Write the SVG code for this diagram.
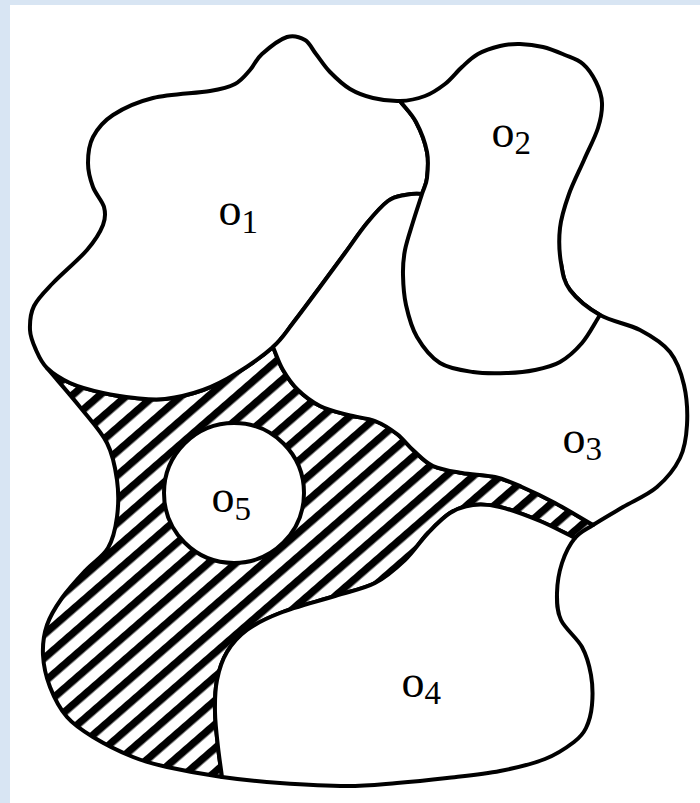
<svg xmlns="http://www.w3.org/2000/svg" width="700" height="803" viewBox="0 0 700 803">
<defs>
<pattern id="hatch" patternUnits="userSpaceOnUse" width="18" height="18" patternTransform="rotate(-41)">
<rect x="0" y="0" width="18" height="18" fill="#fff"/>
<rect x="0" y="0" width="18" height="7.5" fill="#000"/>
</pattern>
<style>
.sh{stroke:#000;stroke-width:4;stroke-linejoin:round;fill:#fff}
.ht{stroke:#000;stroke-width:4;stroke-linejoin:round;fill:url(#hatch)}
.lb{font-family:"Liberation Serif","DejaVu Serif",serif;font-size:46px;fill:#000}
.sub{font-size:33px}
</style>
</defs>
<rect x="0" y="0" width="700" height="803" fill="#d8e5f3"/>
<rect x="10" y="5" width="690" height="798" fill="#fff"/>

<g id="hatched-region">
<path class="ht" d="M47,368 C52.7,373.5 60.7,378.8 70,383 C79.3,387.2 92.2,390.5 103,393 C113.8,395.5 124.7,397 135,398 C145.3,399 153.7,400.3 165,399 C176.3,397.7 191,394.3 203,390 C215,385.7 225.3,380.2 237,373 C248.7,365.8 263.7,355.3 273,347 C276.3,354.7 278.8,362.8 283,370 C287.2,377.2 291.8,384 298,390 C304.2,396 311.7,401.8 320,406 C328.3,410.2 338.8,412.5 348,415 C357.2,417.5 366.8,417.8 375,421 C383.2,424.2 390.7,429.2 397,434 C403.3,438.8 407,444.7 413,450 C419,455.3 424.8,462.2 433,466 C441.2,469.8 451.7,471.2 462,473 C472.3,474.8 485,474.7 495,477 C505,479.3 512,482.7 522,487 C532,491.3 543.2,496.7 555,503 C566.8,509.3 580.3,517.7 593,525 C585,530.2 580.2,531.7 575,538 C563.3,532.3 552.5,526.2 540,521 C527.5,515.8 511.2,509.7 500,507 C488.8,504.3 481.3,504 473,505 C464.7,506 457.5,508.3 450,513 C442.5,517.7 435.5,525.2 428,533 C420.5,540.8 413.8,551.7 405,560 C396.2,568.3 386.7,577 375,583 C363.3,589 350.8,591 335,596 C319.2,601 294.7,607.3 280,613 C265.3,618.7 255.8,623.5 247,630 C238.2,636.5 232,643.7 227,652 C222,660.3 219,670 217,680 C215,690 214.8,700.8 215,712 C215.2,723.2 216.8,736.2 218,747 C219.2,757.8 220.7,767 222,777 C203.2,774.3 181.8,770.3 167,767 C152.2,763.7 145.3,762 133,757 C120.7,752 104,743.7 93,737 C82,730.3 74.2,725.3 67,717 C59.8,708.7 54,697.3 50,687 C46,676.7 43.5,665.3 43,655 C42.5,644.7 43.8,634.5 47,625 C50.2,615.5 55.5,607.2 62,598 C68.5,588.8 78.3,578.3 86,570 C93.7,561.7 102.8,556.8 108,548 C113.2,539.2 115.5,528.3 117,517 C118.5,505.7 118.7,492.3 117,480 C115.3,467.7 113.2,455.2 107,443 C100.8,430.8 90,419.5 80,407 C70,394.5 58,381 47,368 Z"/>
</g>

<g id="o1">
<path class="sh" d="M47,368 C41.3,362.5 38.8,356.3 36,350 C33.2,343.7 30.3,337.3 30,330 C29.7,322.7 30.2,313.8 34,306 C37.8,298.2 44.2,292.3 53,283 C61.8,273.7 78.7,259.7 87,250 C95.3,240.3 100.2,232.2 103,225 C105.8,217.8 105.7,213.3 104,207 C102.3,200.7 95.7,194.3 93,187 C90.3,179.7 88,171.3 88,163 C88,154.7 88.8,145 93,137 C97.2,129 103,121.5 113,115 C123,108.5 136.8,102 153,98 C169.2,94 196.3,93.3 210,91 C223.7,88.7 228.3,87.5 235,84 C241.7,80.5 245.5,75 250,70 C254.5,65 255.8,59.5 262,54 C268.2,48.5 279.8,39.3 287,37 C294.2,34.7 300.2,37.2 305,40 C309.8,42.8 311.8,48.7 316,54 C320.2,59.3 324.3,66.2 330,72 C335.7,77.8 342.8,84.7 350,89 C357.2,93.3 364.7,96 373,98 C381.3,100 391.3,101.3 400,101 C405.3,108 411.5,113.5 416,122 C420.5,130.5 425.2,142.7 427,152 C428.8,161.3 427.8,171 427,178 C426.2,185 424.3,186.7 422,194 C415.3,193 410.7,193.8 405,195 C399.3,196.2 394.3,196.3 388,201 C381.7,205.7 374.2,214.3 367,223 C359.8,231.7 352.8,242.3 345,253 C337.2,263.7 328.7,275.3 320,287 C311.3,298.7 300.8,313 293,323 C285.2,333 282.3,338.7 273,347 C263.7,355.3 248.7,365.8 237,373 C225.3,380.2 215,385.7 203,390 C191,394.3 176.3,397.7 165,399 C153.7,400.3 145.3,399 135,398 C124.7,397 113.8,395.5 103,393 C92.2,390.5 79.3,387.2 70,383 C60.7,378.8 52.7,373.5 47,368 Z"/>
<text class="lb" x="218.5" y="225">o<tspan class="sub" dy="8">1</tspan></text>
</g>

<g id="o3">
<path class="sh" d="M273,347 C282.3,338.7 285.2,333 293,323 C300.8,313 311.3,298.7 320,287 C328.7,275.3 337.2,263.7 345,253 C352.8,242.3 359.8,231.7 367,223 C374.2,214.3 381.7,205.7 388,201 C394.3,196.3 399.3,196.2 405,195 C410.7,193.8 415.3,193 422,194 C428.7,195 434.8,196.7 445,201 C455.2,205.3 469.3,213 483,220 C496.7,227 514,235.8 527,243 C540,250.2 549.7,256.3 561,263 C562.7,273.3 563.5,281.3 570,290 C576.5,298.7 588.3,308.3 600,315 C611.7,321.7 628.3,323.8 640,330 C651.7,336.2 662.7,342.8 670,352 C677.3,361.2 681.2,372.8 684,385 C686.8,397.2 687.7,412.8 687,425 C686.3,437.2 685,447.7 680,458 C675,468.3 666.5,478.8 657,487 C647.5,495.2 633.7,500.7 623,507 C612.3,513.3 601,519.8 593,525 C580.3,517.7 566.8,509.3 555,503 C543.2,496.7 532,491.3 522,487 C512,482.7 505,479.3 495,477 C485,474.7 472.3,474.8 462,473 C451.7,471.2 441.2,469.8 433,466 C424.8,462.2 419,455.3 413,450 C407,444.7 403.3,438.8 397,434 C390.7,429.2 383.2,424.2 375,421 C366.8,417.8 357.2,417.5 348,415 C338.8,412.5 328.3,410.2 320,406 C311.7,401.8 304.2,396 298,390 C291.8,384 287.2,377.2 283,370 C278.8,362.8 276.3,354.7 273,347 Z"/>
<text class="lb" x="562.5" y="453">o<tspan class="sub" dy="7">3</tspan></text>
</g>

<g id="o2">
<path class="sh" d="M400,101 C408.7,100.7 417.5,98.8 425,96 C432.5,93.2 438.8,88.8 445,84 C451.2,79.2 456.5,72 462,67 C467.5,62 471.7,57.5 478,54 C484.3,50.5 493,47.7 500,46 C507,44.3 512.8,43.8 520,44 C527.2,44.2 535.5,45.2 543,47 C550.5,48.8 558.3,52.2 565,55 C571.7,57.8 577.8,59.5 583,64 C588.2,68.5 592.8,75.5 596,82 C599.2,88.5 601.7,95.3 602,103 C602.3,110.7 601,118.5 598,128 C595,137.5 588.8,149 584,160 C579.2,171 573,182.7 569,194 C565,205.3 561.3,216.5 560,228 C558.7,239.5 559.3,252.7 561,263 C562.7,273.3 563.5,281.3 570,290 C576.5,298.7 588.3,308.3 600,315 C594,324.3 588.7,335.2 582,343 C575.3,350.8 567.8,357.5 560,362 C552.2,366.5 543.8,368.2 535,370 C526.2,371.8 517.3,372.7 507,373 C496.7,373.3 484.2,373.7 473,372 C461.8,370.3 449.3,368.8 440,363 C430.7,357.2 422.7,346.7 417,337 C411.3,327.3 408.3,315.3 406,305 C403.7,294.7 403.2,284.2 403,275 C402.8,265.8 403.3,258.8 405,250 C406.7,241.2 410.2,231.3 413,222 C415.8,212.7 419.7,201.3 422,194 C424.3,186.7 426.2,185 427,178 C427.8,171 428.8,161.3 427,152 C425.2,142.7 420.5,130.5 416,122 C411.5,113.5 405.3,108 400,101 Z" fill="none"/>
<text class="lb" x="491.5" y="147">o<tspan class="sub" dy="7">2</tspan></text>
</g>

<g id="o4">
<path class="sh" d="M575,538 C563.3,532.3 552.5,526.2 540,521 C527.5,515.8 511.2,509.7 500,507 C488.8,504.3 481.3,504 473,505 C464.7,506 457.5,508.3 450,513 C442.5,517.7 435.5,525.2 428,533 C420.5,540.8 413.8,551.7 405,560 C396.2,568.3 386.7,577 375,583 C363.3,589 350.8,591 335,596 C319.2,601 294.7,607.3 280,613 C265.3,618.7 255.8,623.5 247,630 C238.2,636.5 232,643.7 227,652 C222,660.3 219,670 217,680 C215,690 214.8,700.8 215,712 C215.2,723.2 216.8,736.2 218,747 C219.2,757.8 220.7,767 222,777 C240.8,779.7 259.2,781.5 280,783 C300.8,784.5 327.5,786 347,786 C366.5,786 380.3,784.3 397,783 C413.7,781.7 429.8,780 447,778 C464.2,776 483.7,774.2 500,771 C516.3,767.8 532.7,763.8 545,759 C557.3,754.2 567.2,747.2 574,742 C580.8,736.8 583,734.2 586,728 C589,721.8 591.2,713.8 592,705 C592.8,696.2 592.7,684.7 591,675 C589.3,665.3 587,656.2 582,647 C577,637.8 565.2,629 561,620 C556.8,611 556.8,602.5 557,593 C557.2,583.5 559,572.2 562,563 C565,553.8 569.8,544.3 575,538 Z"/>
<text class="lb" x="401.5" y="697">o<tspan class="sub" dy="7">4</tspan></text>
</g>

<g id="o5">
<circle class="sh" cx="234" cy="493" r="70"/>
<text class="lb" x="211.5" y="512">o<tspan class="sub" dy="8">5</tspan></text>
</g>
</svg>
